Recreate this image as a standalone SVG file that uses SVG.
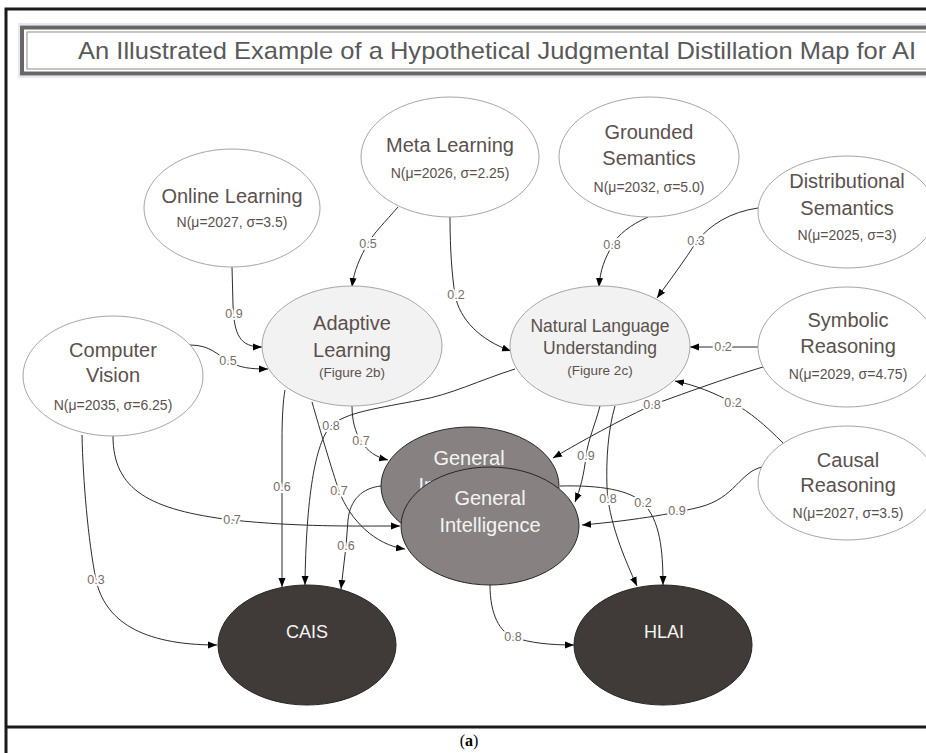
<svg xmlns="http://www.w3.org/2000/svg" width="926" height="753" viewBox="0 0 926 753">
<style>
.edge{fill:none;stroke:#2b2b2b;stroke-width:1;marker-end:url(#ah)}
.lbl{font-family:"Liberation Sans",Arial,sans-serif;font-size:12.5px;fill:#776d69;text-anchor:middle;stroke:#fff;stroke-width:4;paint-order:stroke;stroke-linejoin:round}
.leaf{fill:#fff;stroke:#a6a6a6;stroke-width:1}
.mid{fill:#f2f2f2;stroke:#a6a6a6;stroke-width:1}
.gen{fill:#878281;stroke:#262626;stroke-width:1}
.out{fill:#403b38;stroke:#262626;stroke-width:1}
.t{font-family:"Liberation Sans",Arial,sans-serif;font-size:20px;fill:#5a514d;text-anchor:middle}
.s{font-size:14px}
.w{fill:#f4f4f4}
</style>
<defs>
<marker id="ah" markerWidth="10" markerHeight="8" refX="9" refY="4" orient="auto" markerUnits="userSpaceOnUse"><path d="M0,0.5 L9,4 L0,7.5 z" fill="#000"/></marker>
</defs>
<rect width="926" height="753" fill="#fff"/>
<g id="frame">
<path d="M6,753 V9 H926" fill="none" stroke="#1a1a1a" stroke-width="3"/>
<path d="M6,727 H926" stroke="#1a1a1a" stroke-width="3"/>
</g>
<g id="title">
<rect x="19" y="24" width="920" height="53" fill="none" stroke="#e3eaf3" stroke-width="2"/>
<rect x="22" y="27.5" width="920" height="46" fill="#fff" stroke="#696564" stroke-width="4"/>
<rect x="27" y="32" width="910" height="37" fill="none" stroke="#a0a0a0" stroke-width="1.2"/>
<text x="497" y="59" font-family="Liberation Sans, Arial, sans-serif" font-size="24" fill="#595959" text-anchor="middle" textLength="838" lengthAdjust="spacingAndGlyphs">An Illustrated Example of a Hypothetical Judgmental Distillation Map for AI</text>
</g>
<g id="connectors">
<path class="edge" d="M232,267 L233,305 C234,335 240,347 262,347"/>
<text class="lbl" x="234" y="318">0.9</text>
<path class="edge" d="M190,345 C210,345 218,355 228,361 C240,368 250,369 268,369"/>
<text class="lbl" x="228" y="365">0.5</text>
<path class="edge" d="M398,207 C385,222 374,233 368,243 C360,258 354,270 352,287"/>
<text class="lbl" x="368" y="248">0.5</text>
<path class="edge" d="M450,217 C450,250 452,275 455,295 C460,320 480,340 511,351"/>
<text class="lbl" x="456" y="299">0.2</text>
<path class="edge" d="M648,217 C630,225 618,235 613,244 C605,258 600,270 599,287"/>
<text class="lbl" x="612" y="249">0.8</text>
<path class="edge" d="M758,208 C730,212 710,225 697,241 C685,260 670,280 657,298"/>
<text class="lbl" x="696" y="245">0.3</text>
<path class="edge" d="M758,347 L690,347"/>
<text class="lbl" x="723" y="351">0.2</text>
<path class="edge" d="M763,367 C720,380 680,395 652,405 C610,425 575,445 553,458"/>
<text class="lbl" x="652" y="409">0.8</text>
<path class="edge" d="M783,443 C765,425 750,412 733,403 C715,393 695,385 675,381"/>
<text class="lbl" x="733" y="407">0.2</text>
<path class="edge" d="M762,467 C740,472 735,498 700,507 C680,512 640,520 582,525"/>
<text class="lbl" x="677" y="515">0.9</text>
<path class="edge" d="M600,406 C595,425 588,440 586,456 C584,475 580,490 575,502"/>
<text class="lbl" x="586" y="460">0.9</text>
<path class="edge" d="M615,406 C608,430 606,460 607,487 C608,520 625,560 637,586"/>
<text class="lbl" x="608" y="503">0.8</text>
<path class="edge" d="M560,486 C600,485 630,490 643,503 C660,520 663,550 663,585"/>
<text class="lbl" x="643" y="507">0.2</text>
<path class="edge" d="M490,585 C490,615 500,632 513,637 C530,643 550,645 574,645"/>
<text class="lbl" x="513" y="641">0.8</text>
<path class="edge" d="M515,369 C480,380 450,395 420,400 C380,408 345,412 331,426 C315,442 306,500 305,585"/>
<text class="lbl" x="331" y="430">0.8</text>
<path class="edge" d="M285,390 C283,400 282,420 282,440 L282,587"/>
<text class="lbl" x="282" y="491">0.6</text>
<path class="edge" d="M352,406 C352,420 355,432 361,441 C368,452 376,457 388,460"/>
<text class="lbl" x="361" y="445">0.7</text>
<path class="edge" d="M312,402 C320,430 332,470 339,491 C350,520 375,545 405,549"/>
<text class="lbl" x="339" y="495">0.7</text>
<path class="edge" d="M113,436 C113,490 150,510 232,520 C300,527 350,526 400,526"/>
<text class="lbl" x="232" y="524">0.7</text>
<path class="edge" d="M82,435 C83,480 88,540 96,580 C105,620 140,645 217,645"/>
<text class="lbl" x="96" y="584">0.3</text>
<path class="edge" d="M381,486 C362,488 350,500 348,520 L346,546 L341,589"/>
<text class="lbl" x="346" y="550">0.6</text>
</g>
<g id="online-learning">
<ellipse class="leaf" cx="232" cy="208" rx="88" ry="59"/>
<text class="t" x="232" y="203">Online Learning</text>
<text class="t s" x="232" y="227">N(μ=2027, σ=3.5)</text>
</g>
<g id="meta-learning">
<ellipse class="leaf" cx="450" cy="157" rx="89" ry="60"/>
<text class="t" x="450" y="152">Meta Learning</text>
<text class="t s" x="450" y="178">N(μ=2026, σ=2.25)</text>
</g>
<g id="grounded-semantics">
<ellipse class="leaf" cx="649" cy="157" rx="90" ry="60"/>
<text class="t" x="649" y="139">Grounded</text>
<text class="t" x="649" y="165">Semantics</text>
<text class="t s" x="649" y="192">N(μ=2032, σ=5.0)</text>
</g>
<g id="distributional-semantics">
<ellipse class="leaf" cx="847" cy="212" rx="89" ry="56"/>
<text class="t" x="847" y="188">Distributional</text>
<text class="t" x="847" y="215">Semantics</text>
<text class="t s" x="847" y="240">N(μ=2025, σ=3)</text>
</g>
<g id="symbolic-reasoning">
<ellipse class="leaf" cx="847" cy="347" rx="89" ry="60"/>
<text class="t" x="848" y="327">Symbolic</text>
<text class="t" x="848" y="353">Reasoning</text>
<text class="t s" x="848" y="379">N(μ=2029, σ=4.75)</text>
</g>
<g id="causal-reasoning">
<ellipse class="leaf" cx="847" cy="483" rx="89" ry="57"/>
<text class="t" x="848" y="467">Causal</text>
<text class="t" x="848" y="492">Reasoning</text>
<text class="t s" x="848" y="518">N(μ=2027, σ=3.5)</text>
</g>
<g id="computer-vision">
<ellipse class="leaf" cx="113" cy="376" rx="90" ry="60"/>
<text class="t" x="113" y="357">Computer</text>
<text class="t" x="113" y="382">Vision</text>
<text class="t s" x="113" y="410">N(μ=2035, σ=6.25)</text>
</g>
<g id="adaptive-learning">
<ellipse class="mid" cx="352" cy="346" rx="90" ry="60"/>
<text class="t" x="352" y="330">Adaptive</text>
<text class="t" x="352" y="357">Learning</text>
<text class="t s" x="352" y="377" style="font-size:13.5px">(Figure 2b)</text>
</g>
<g id="natural-language-understanding">
<ellipse class="mid" cx="600" cy="346" rx="90" ry="60"/>
<text class="t" x="600" y="332" style="font-size:17.5px">Natural Language</text>
<text class="t" x="600" y="354" style="font-size:17.5px">Understanding</text>
<text class="t s" x="600" y="375" style="font-size:13.5px">(Figure 2c)</text>
</g>
<g id="general-intelligence-back">
<ellipse class="gen" cx="470" cy="486" rx="89" ry="59"/>
<text class="t w" x="469" y="465">General</text>
<text class="t w" x="469" y="492">Intelligence</text>
</g>
<g id="general-intelligence">
<ellipse class="gen" cx="490" cy="526" rx="89" ry="59"/>
<text class="t w" x="490" y="505">General</text>
<text class="t w" x="490" y="532">Intelligence</text>
</g>
<g id="cais">
<ellipse class="out" cx="307" cy="645" rx="89" ry="60"/>
<text class="t w" x="307" y="638" style="font-size:18px">CAIS</text>
</g>
<g id="hlai">
<ellipse class="out" cx="663" cy="645" rx="89" ry="60"/>
<text class="t w" x="664" y="638" style="font-size:18px">HLAI</text>
</g>
<g id="caption">
<text x="469" y="746" font-family="Liberation Serif, Times New Roman, serif" font-size="16" fill="#000" text-anchor="middle">(<tspan font-weight="bold">a</tspan>)</text>
</g>
</svg>
